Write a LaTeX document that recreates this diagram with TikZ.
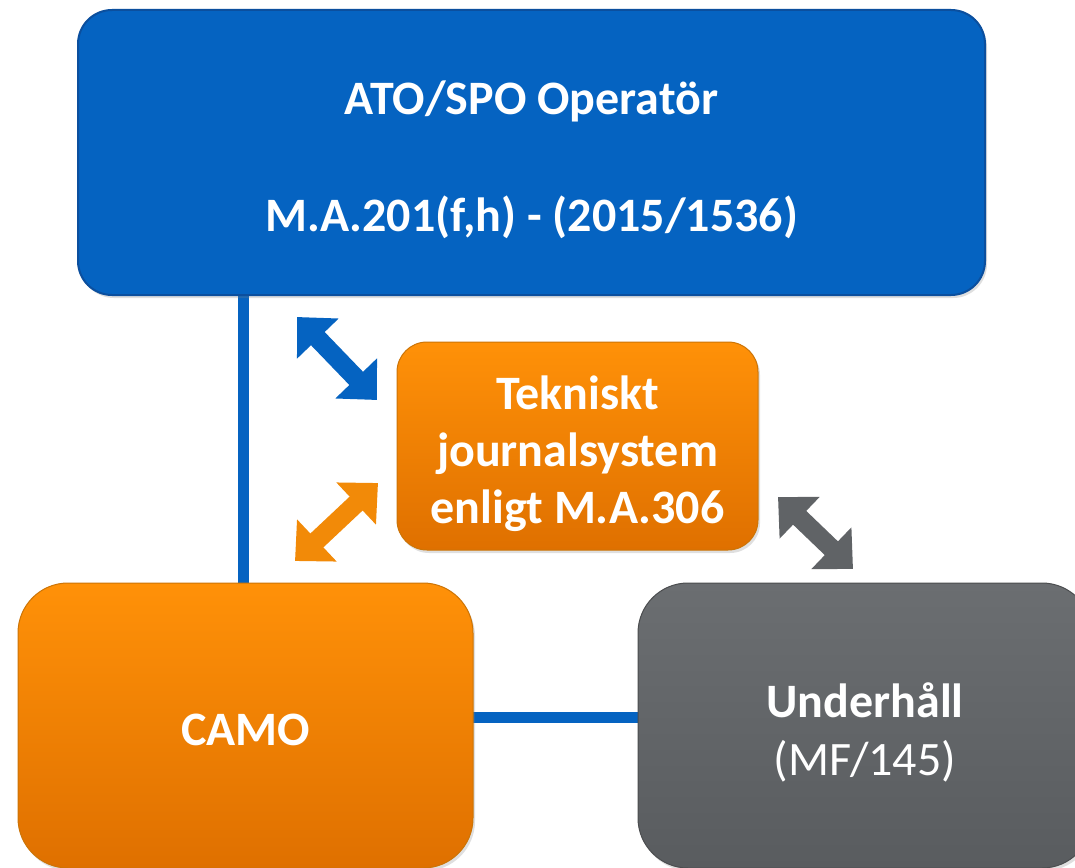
\documentclass[tikz,border=0pt]{standalone}
\usepackage{fontspec}
\setmainfont{Carlito}
\usetikzlibrary{arrows.meta,shadows}
\definecolor{opblue}{HTML}{0563C1}
\definecolor{opblueline}{HTML}{0B4F9E}
\definecolor{camotop}{HTML}{FF9108}
\definecolor{camobot}{HTML}{DF7000}
\definecolor{greytop}{HTML}{6B6E71}
\definecolor{greybot}{HTML}{595C5F}
\newcommand\toppad[1]{\rule{0pt}{#1}}
\tikzset{
  box/.style={rounded corners=34pt, text=white, align=center, inner sep=0pt,
    font=\fontsize{48}{57}\selectfont\bfseries,
    drop shadow={opacity=0.25, shadow xshift=2pt, shadow yshift=-3pt}},
  link/.style={opblue, line width=11pt},
  twoway/.style={line width=19pt, {Triangle[width=56pt,length=30pt]}-{Triangle[width=56pt,length=30pt]}}
}
\begin{document}
\begin{tikzpicture}[x=1pt,y=-1pt]
    \path[use as bounding box, clip] (0,0) rectangle (1075,867);
    \fill[white] (0,0) rectangle (1075,867);
    \coordinate (vx) at (243,0);
    \coordinate (hy) at (0,717);
    % links behind the boxes
    \draw[link] (vx |- 0,295) -- (vx |- 0,583);
    \draw[link] (473,0 |- hy) -- (638,0 |- hy);
    % boxes
    \node[box, draw=opblueline, line width=2pt, fill=opblue,
      minimum width=907pt, minimum height=285pt] (op) at (531.5,152.5)
      {\toppad{48pt}ATO/SPO Operatör\\[60pt]M.A.201(f,h) - (2015/1536)};
    \node[box, draw=camotop!80!black, line width=1pt, top color=camotop, bottom color=camobot,
      rounded corners=30pt, minimum width=361pt, minimum height=208pt] (tj) at (577.5,446)
      {\toppad{50pt}Tekniskt\\journalsystem\\enligt M.A.306};
    \node[box, draw=camotop!80!black, line width=1pt, top color=camotop, bottom color=camobot,
      rounded corners=50pt, minimum width=455pt, minimum height=285pt] (camo) at (245.5,725.5)
      {\toppad{40pt}CAMO};
    \node[box, draw=greytop!70!black, line width=1pt, top color=greytop, bottom color=greybot,
      rounded corners=50pt, minimum width=454pt, minimum height=285pt] (uh) at (865,725.5)
      {\toppad{48pt}Underhåll\\[1pt]{\mdseries (MF/145)}};
    % double arrows
    \coordinate (b1) at (297,317);
    \coordinate (b2) at (377,400);
    \coordinate (o1) at (295,561);
    \coordinate (o2) at (378,483);
    \coordinate (g1) at (778,497);
    \coordinate (g2) at (853,569);
    \draw[twoway, opblue] (b1) -- (b2);
    \draw[twoway, camotop!95!black] (o1) -- (o2);
    \draw[twoway, greytop!90!black] (g1) -- (g2);
  \end{tikzpicture}
\end{document}
